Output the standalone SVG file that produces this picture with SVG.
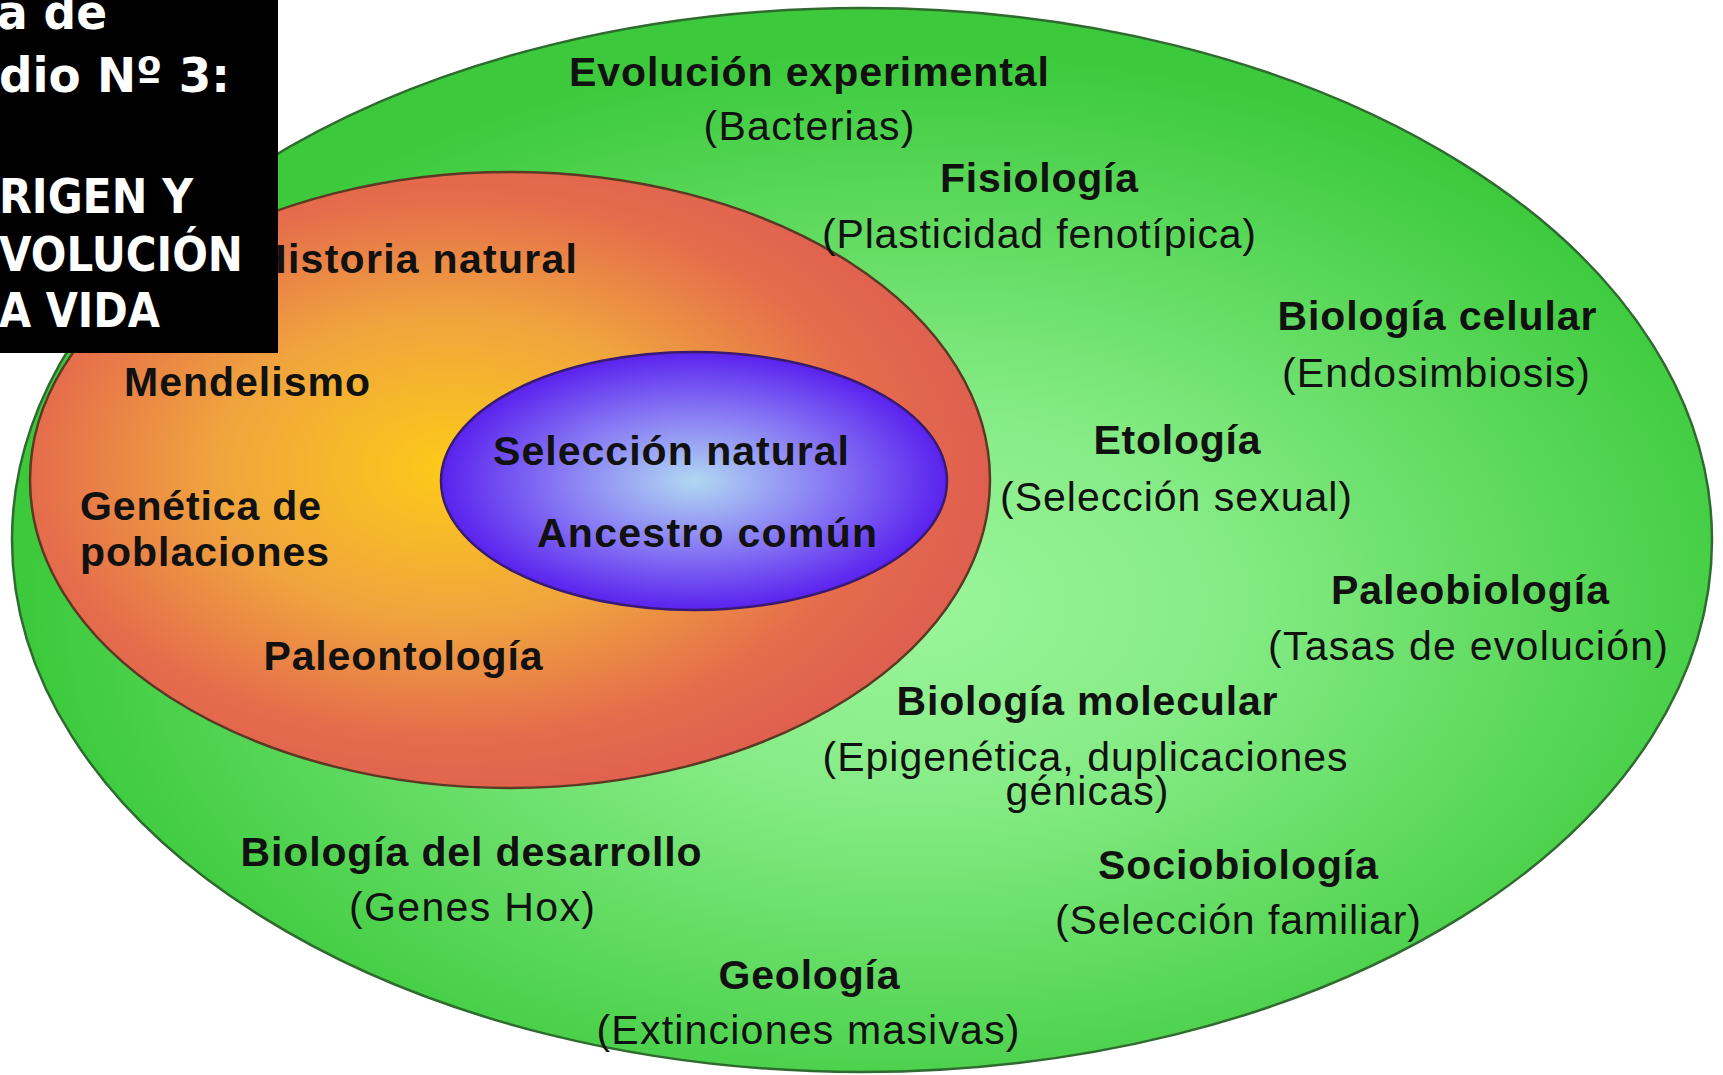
<svg xmlns="http://www.w3.org/2000/svg" width="1723" height="1075" viewBox="0 0 1723 1075">
<defs>
<radialGradient id="gGreen" cx="0.53" cy="0.56" r="0.52">
<stop offset="0" stop-color="#9af59a"/>
<stop offset="0.35" stop-color="#86ec86"/>
<stop offset="1" stop-color="#3cca3c"/>
</radialGradient>
<radialGradient id="gRed" cx="0.44" cy="0.48" r="0.55">
<stop offset="0" stop-color="#fdca18"/>
<stop offset="0.45" stop-color="#f0a43e"/>
<stop offset="0.8" stop-color="#e56c4c"/>
<stop offset="1" stop-color="#e0604f"/>
</radialGradient>
<radialGradient id="gBlue" cx="0.5" cy="0.5" r="0.5">
<stop offset="0" stop-color="#b0d8f2"/>
<stop offset="0.55" stop-color="#8676f4"/>
<stop offset="1" stop-color="#5a22ee"/>
</radialGradient>
<style>
.b{font-family:"Liberation Sans",Arial,sans-serif;font-weight:bold;font-size:41px;fill:#111;}
.r{font-family:"Liberation Sans",Arial,sans-serif;font-size:41px;fill:#111;}
.c{text-anchor:middle;}
.w{font-family:"DejaVu Sans",Verdana,sans-serif;font-weight:bold;font-size:48px;fill:#fff;}
</style>
</defs>
<rect width="1723" height="1075" fill="#fff"/>
<g id="outer">
<ellipse cx="862" cy="540" rx="850" ry="532" fill="url(#gGreen)" stroke="#2f6a2f" stroke-width="2.5"/>
</g>
<g id="middle">
<ellipse cx="510" cy="480" rx="480" ry="308" fill="url(#gRed)" stroke="#5a3a22" stroke-width="2.5"/>
</g>
<g id="inner">
<ellipse cx="694" cy="481" rx="253" ry="129" fill="url(#gBlue)" stroke="#3a1a70" stroke-width="2.5"/>
</g>
<g id="connectors"></g>
<g id="outer-labels">
<text class="b c" x="809" y="86" textLength="480">Evolución experimental</text>
<text class="r c" x="809" y="140" textLength="211">(Bacterias)</text>
<text class="b c" x="1039" y="192" textLength="198">Fisiología</text>
<text class="r c" x="1039" y="248" textLength="434">(Plasticidad fenotípica)</text>
<text class="b c" x="1437" y="330" textLength="319">Biología celular</text>
<text class="r c" x="1436" y="387" textLength="308">(Endosimbiosis)</text>
<text class="b c" x="1177" y="454" textLength="167">Etología</text>
<text class="r c" x="1176" y="511" textLength="352">(Selección sexual)</text>
<text class="b c" x="1470" y="604" textLength="278">Paleobiología</text>
<text class="r c" x="1468" y="660" textLength="400">(Tasas de evolución)</text>
<text class="b c" x="1087" y="715" textLength="381">Biología molecular</text>
<text class="r c" x="1085" y="771" textLength="525">(Epigenética, duplicaciones</text>
<text class="r c" x="1087" y="805" textLength="163">génicas)</text>
<text class="b c" x="471" y="866" textLength="461">Biología del desarrollo</text>
<text class="r c" x="472" y="921" textLength="246">(Genes Hox)</text>
<text class="b c" x="1238" y="879" textLength="280">Sociobiología</text>
<text class="r c" x="1238" y="934" textLength="366">(Selección familiar)</text>
<text class="b c" x="809" y="989" textLength="181">Geología</text>
<text class="r c" x="808" y="1044" textLength="423">(Extinciones masivas)</text>
</g>
<g id="middle-labels">
<text class="b" x="577" y="273" text-anchor="end" textLength="320">Historia natural</text>
<text class="b c" x="247" y="396" textLength="246">Mendelismo</text>
<text class="b" x="80" y="520" textLength="241">Genética de</text>
<text class="b" x="80" y="566" textLength="249">poblaciones</text>
<text class="b c" x="403" y="670" textLength="279">Paleontología</text>
</g>
<g id="inner-labels">
<text class="b c" x="671" y="465" textLength="356">Selección natural</text>
<text class="b c" x="707" y="547" textLength="340">Ancestro común</text>
</g>
<g id="title-box">
<rect x="0" y="0" width="278" height="353" fill="#000"/>
<text class="w" x="-3" y="29" textLength="110" lengthAdjust="spacingAndGlyphs">a de</text>
<text class="w" x="-1" y="92" textLength="231" lengthAdjust="spacingAndGlyphs">dio Nº 3:</text>
<text class="w" x="-1" y="213" textLength="194" lengthAdjust="spacingAndGlyphs">RIGEN Y</text>
<text class="w" x="-1" y="271" textLength="244" lengthAdjust="spacingAndGlyphs">VOLUCIÓN</text>
<text class="w" x="-1" y="327" textLength="161" lengthAdjust="spacingAndGlyphs">A VIDA</text>
</g>
</svg>
